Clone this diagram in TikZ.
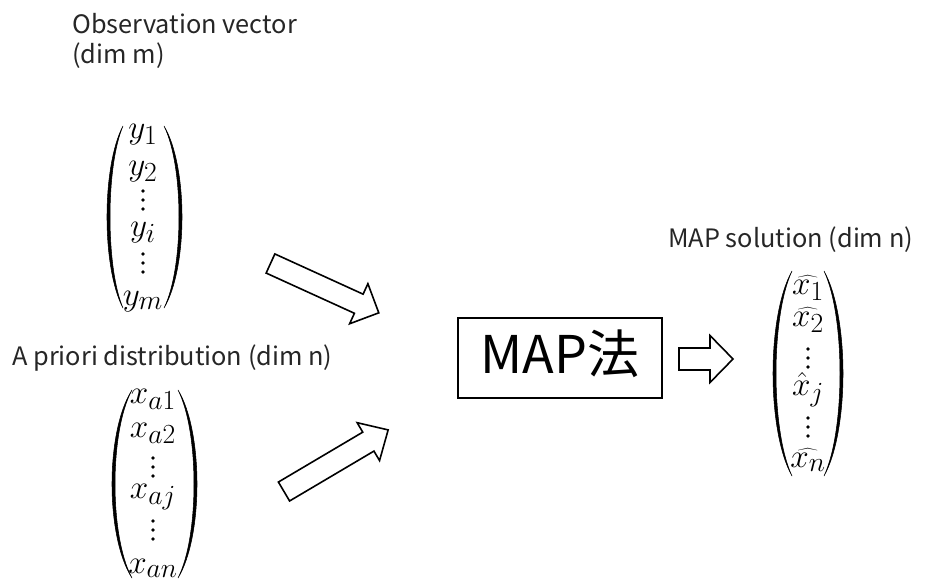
\documentclass[tikz,border=0pt]{standalone}
\usepackage{fontspec}
\newfontfamily\jpfont{Noto Sans CJK JP}
\newcommand\drawlp[4]{% top x, extreme x, top y, bottom y
  \filldraw[line width=0.4pt] (#1,#3) .. controls ({(8*#2-2*#1)/6},{#3+(#4-#3)*0.22}) and ({(8*#2-2*#1)/6},{#3+(#4-#3)*0.78}) .. (#1,#4)
    .. controls ({(8*#2-2*#1)/6+4},{#3+(#4-#3)*0.78}) and ({(8*#2-2*#1)/6+4},{#3+(#4-#3)*0.22}) .. cycle;}
\newcommand\drawrp[4]{%
  \filldraw[line width=0.4pt] (#1,#3) .. controls ({(8*#2-2*#1)/6},{#3+(#4-#3)*0.22}) and ({(8*#2-2*#1)/6},{#3+(#4-#3)*0.78}) .. (#1,#4)
    .. controls ({(8*#2-2*#1)/6-4},{#3+(#4-#3)*0.78}) and ({(8*#2-2*#1)/6-4},{#3+(#4-#3)*0.22}) .. cycle;}
\newcommand\dotsat[2]{\fill (#1,#2-9) circle (1.35pt) (#1,#2) circle (1.35pt) (#1,#2+9) circle (1.35pt);}
\newcommand\blockarr[7]{% tail x, tail y, angle, length, shaft w, head w, head len
  \draw[barrow, shift={(#1,#2)}, rotate=#3] (0,{-#5/2}) -- ({#4-#7},{-#5/2}) -- ({#4-#7},{-#6/2}) -- (#4,0) -- ({#4-#7},{#6/2}) -- ({#4-#7},{#5/2}) -- (0,{#5/2}) -- cycle;}
\begin{document}
\begin{tikzpicture}[x=0.75pt,y=-0.75pt,
  lbl/.style={font=\jpfont\fontsize{19}{22}\selectfont, inner sep=0pt, anchor=base west, text=black!85},
  ent/.style={font=\fontsize{24.88}{28}\selectfont, inner sep=0pt, anchor=base},
  barrow/.style={draw=black, line width=1.2pt, fill=white, line join=miter},
  mapbox/.style={draw=black, line width=1.5pt, inner sep=0pt, minimum width=153pt, minimum height=60pt,
    text height=27pt, text depth=4.5pt, font=\jpfont\fontsize{39}{42}\selectfont}]
\useasboundingbox (0,0) rectangle (925,579);

% labels
\node[lbl] (obs1) at (72,33) {Observation vector};
\node[lbl] (obs2) at (72,63) {(dim m)};
\node[lbl] (prior) at (12,365) {A priori distribution (dim n)};
\node[lbl] (sol) at (668,247) {MAP solution (dim n)};

% observation vector
\node[ent] (y1) at (143,138) {$y_1$};
\node[ent] (y2) at (143,175) {$y_2$};
\dotsat{143}{200}
\node[ent] (yi) at (143,236) {$y_i$};
\dotsat{143}{263}
\node[ent] (ym) at (143,305) {$y_m$};
\drawlp{123}{107}{126}{308}
\drawrp{164}{182}{126}{308}

% a priori vector
\node[ent] (xa1) at (153,403) {$x_{a1}$};
\node[ent] (xa2) at (153,437) {$x_{a2}$};
\dotsat{153}{467}
\node[ent] (xaj) at (153,498) {$x_{aj}$};
\dotsat{153}{530}
\node[ent] (xan) at (153,573) {$x_{an}$};
\drawlp{132}{112}{390}{578}
\drawrp{178}{197}{390}{578}

% MAP box
\node[mapbox] (map) at (560,358) {MAP法};

% solution vector
\node[ent] (xh1) at (808,294) {$\widehat{x_1}$};
\node[ent] (xh2) at (808,326) {$\widehat{x_2}$};
\dotsat{808}{358}
\node[ent] (xhj) at (808,395) {$\hat{x}_j$};
\dotsat{808}{427}
\node[ent] (xhn) at (808,467) {$\widehat{x_n}$};
\drawlp{792}{773}{271}{476}
\drawrp{824}{843}{271}{476}

% block arrows
\blockarr{270.5}{263.5}{-24.5}{119}{21}{44}{22}
\blockarr{284}{491.5}{30.6}{121}{22}{44}{23}
\blockarr{679}{359}{0}{54}{22}{47}{23}
\end{tikzpicture}
\end{document}
